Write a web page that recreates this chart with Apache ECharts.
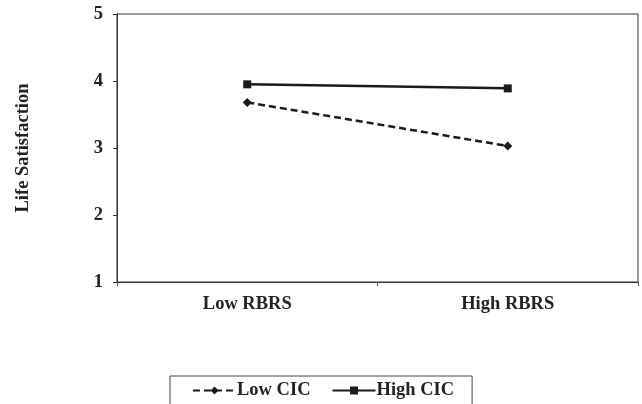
<!DOCTYPE html>
<html>
<head>
<meta charset="utf-8">
<script src="https://cdn.jsdelivr.net/npm/echarts@6/dist/echarts.min.js"></script>
<style>
  html, body { margin: 0; padding: 0; background: #fff; }
  #chart { width: 642px; height: 404px; }
</style>
</head>
<body>
<div id="chart"></div>
<script>
var categories = ["Low RBRS", "High RBRS"];
var lowCIC = [3.68, 3.03];
var highCIC = [3.95, 3.89];
var yTicks = [1, 2, 3, 4, 5];

var fontFam = "'Liberation Serif', 'Times New Roman', serif";
var myChart = echarts.init(document.getElementById("chart"), null, { renderer: "canvas" });

var option = {
  animation: false,
  grid: {
    left: 117,
    right: 4,
    top: 14,
    bottom: 122,
    show: true,
    borderColor: "#333",
    borderWidth: 1,
  },
  legend: {
    left: 170,
    top: 376,
    padding: [5, 18, 30, 22],
    borderColor: "#444",
    borderWidth: 1,
    itemWidth: 43,
    itemHeight: 10,
    itemGap: 21,
    textStyle: {
      fontFamily: fontFam,
      fontWeight: "bold",
      fontSize: 18.5,
      color: "#222",
      padding: [0, 0, 0, -4],
    },
    data: ["Low CIC", "High CIC"],
  },
  xAxis: {
    type: "category",
    data: categories,
    boundaryGap: true,
    axisLine: { lineStyle: { color: "#333", width: 1 } },
    axisTick: { show: true, length: 4, lineStyle: { color: "#555" } },
    axisLabel: {
      margin: 13,
      fontFamily: fontFam,
      fontWeight: "bold",
      fontSize: 18.5,
      color: "#222",
    },
  },
  yAxis: {
    type: "value",
    min: 1,
    max: 5,
    interval: 1,
    name: "Life Satisfaction",
    nameLocation: "middle",
    nameGap: 84,
    nameTextStyle: {
      fontFamily: fontFam,
      fontWeight: "bold",
      fontSize: 18.5,
      color: "#222",
    },
    splitLine: { show: false },
    axisLine: { show: true, lineStyle: { color: "#333", width: 1 } },
    axisTick: { show: true, length: 4, lineStyle: { color: "#333" } },
    axisLabel: {
      margin: 14,
      fontFamily: fontFam,
      fontWeight: "bold",
      fontSize: 18.5,
      color: "#222",
      formatter: function (v) {
        return yTicks.indexOf(v) >= 0 ? String(v) : "";
      },
    },
  },
  series: [
    {
      name: "Low CIC",
      type: "line",
      data: lowCIC,
      symbol: "diamond",
      symbolSize: 9,
      color: "#1a1a1a",
      lineStyle: { width: 2.5, type: [7, 4], color: "#1a1a1a" },
      itemStyle: { color: "#1a1a1a" },
    },
    {
      name: "High CIC",
      type: "line",
      data: highCIC,
      symbol: "rect",
      symbolSize: 8,
      color: "#1a1a1a",
      lineStyle: { width: 2.5, type: "solid", color: "#1a1a1a" },
      itemStyle: { color: "#1a1a1a" },
    },
  ],
};

myChart.setOption(option);
</script>
</body>
</html>
